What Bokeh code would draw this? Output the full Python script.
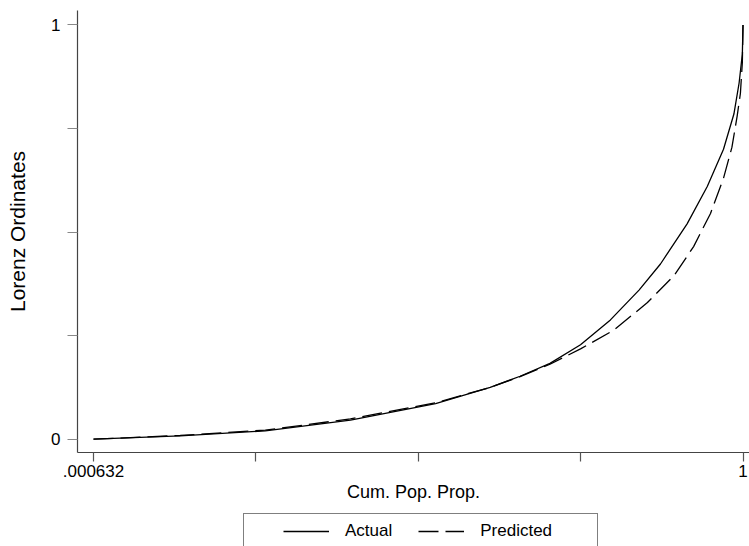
from bokeh.plotting import figure
from bokeh.models import Range1d, FixedTicker, Legend, LegendItem
from bokeh.layouts import column
from bokeh.embed import file_html
from bokeh.resources import INLINE

# ---- data ----
cum_pop_actual = [0.000632, 0.134, 0.265, 0.396, 0.527, 0.611, 0.657, 0.703,
                  0.750, 0.796, 0.840, 0.873, 0.914, 0.945, 0.970, 0.986,
                  0.994, 0.999, 1.0]
lorenz_actual = [0.0, 0.008, 0.020, 0.046, 0.086, 0.125, 0.152, 0.183,
                 0.228, 0.288, 0.360, 0.423, 0.520, 0.610, 0.700, 0.785,
                 0.860, 0.930, 1.0]

cum_pop_pred = [0.000632, 0.134, 0.265, 0.396, 0.527, 0.611, 0.657, 0.703,
                0.750, 0.801, 0.853, 0.894, 0.924, 0.950, 0.970, 0.983,
                0.991, 0.996, 0.999, 1.0]
lorenz_pred = [0.0, 0.009, 0.022, 0.049, 0.088, 0.125, 0.151, 0.181,
               0.218, 0.263, 0.330, 0.395, 0.465, 0.545, 0.630, 0.705,
               0.780, 0.835, 0.910, 1.0]

x_min, x_max = 0.000632, 1.0
x_tick_label_text = {0: ".000632", 4: "1"}
y_ticks = [0.0, 0.25, 0.5, 0.75, 1.0]
y_tick_label_text = {0.0: "0", 1.0: "1"}
series_names = ["Actual", "Predicted"]

FONT = "Liberation Sans"
ACTUAL_STYLE = dict(line_color="black", line_width=1.3)
PRED_STYLE = dict(line_color="black", line_width=1.3, line_dash="20 7")

x_ticks = [x_min + k * (x_max - x_min) / 4 for k in range(5)]

# ---------------- main plot ----------------
p = figure(width=749, height=513, output_backend="svg", toolbar_location=None,
           x_range=Range1d(-0.0240, 1.0100), y_range=Range1d(-0.0321, 1.035),
           min_border_left=77, min_border_right=0, min_border_top=10,
           min_border_bottom=61, background_fill_color="white",
           border_fill_color="white")
p.frame_width = 672
p.frame_height = 442
p.outline_line_color = None
p.xgrid.visible = False
p.ygrid.visible = False

p.line(cum_pop_actual, lorenz_actual, **ACTUAL_STYLE)
p.line(cum_pop_pred, lorenz_pred, **PRED_STYLE)

for ax in (p.xaxis[0], p.yaxis[0]):
    ax.axis_line_color = "#444444"
    ax.axis_line_width = 1.2
    ax.major_tick_line_color = "#555555"
    ax.major_tick_line_width = 1.2
    ax.major_tick_in = 0
    ax.minor_tick_line_color = None
    ax.major_label_text_font = FONT
    ax.major_label_text_font_size = "17px"
    ax.major_label_text_color = "black"
    ax.axis_label_text_font = FONT
    ax.axis_label_text_font_style = "normal"
    ax.axis_label_text_color = "black"

p.xaxis.ticker = FixedTicker(ticks=x_ticks)
p.xaxis.major_label_overrides = {t: x_tick_label_text.get(i, "") for i, t in enumerate(x_ticks)}
p.xaxis.major_tick_out = 9
p.xaxis.major_label_standoff = 3
p.xaxis.axis_label = "Cum. Pop. Prop."
p.xaxis.axis_label_text_font_size = "18px"
p.xaxis.axis_label_standoff = 2

p.yaxis.ticker = FixedTicker(ticks=y_ticks)
p.yaxis.major_label_overrides = {t: y_tick_label_text.get(t, "") for t in y_ticks}
p.yaxis.major_tick_out = 10
p.yaxis.major_tick_line_color = "#888888"
p.yaxis.major_label_standoff = 7
p.yaxis.axis_label = "Lorenz Ordinates"
p.yaxis.axis_label_text_font_size = "21px"
p.yaxis.axis_label_standoff = 19

# ---------------- legend strip (below the axis title) ----------------
lg = figure(width=749, height=33, output_backend="svg", toolbar_location=None,
            x_range=Range1d(0, 1), y_range=Range1d(0, 1), min_border=0,
            background_fill_color="white", border_fill_color="white")
lg.frame_width = 749
lg.frame_height = 33
lg.outline_line_color = None
lg.axis.visible = False
lg.grid.visible = False
# same series, hidden here: they only supply the legend's line samples
k_act = lg.line(cum_pop_actual, lorenz_actual, visible=False, **ACTUAL_STYLE)
k_pred = lg.line(cum_pop_pred, lorenz_pred, visible=False, **PRED_STYLE)

NB = "\u00a0"
legend = Legend(items=[LegendItem(label=series_names[0], renderers=[k_act]),
                       LegendItem(label=series_names[1] + NB * 8, renderers=[k_pred])],
                orientation="horizontal", location=(243, -3),
                padding=7, margin=0, spacing=26,
                glyph_width=46, glyph_height=20, label_standoff=16,
                label_text_font=FONT, label_text_font_size="17px",
                label_text_color="black",
                title=" ", title_location="left", title_text_font_size="1px",
                title_standoff=31,
                inactive_fill_alpha=0,
                border_line_color="black", border_line_width=1,
                background_fill_color="white", background_fill_alpha=1)
lg.add_layout(legend, "center")

layout = column(p, lg, spacing=0)
open("out.html", "w").write(file_html(layout, INLINE))
